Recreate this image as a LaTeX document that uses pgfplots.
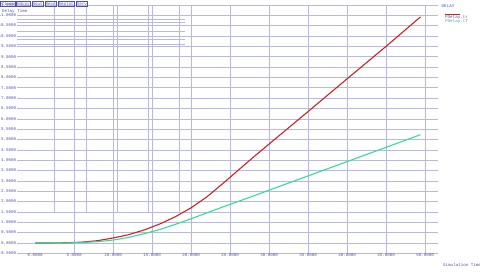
\documentclass[border=0pt]{standalone}
\usepackage{pgfplots}
\pgfplotsset{compat=1.18}
\usepackage{fontspec}
\setmainfont{Liberation Mono}
\definecolor{txt}{HTML}{5050B0}
\definecolor{gridc}{HTML}{B8B8E4}
\definecolor{cTr}{HTML}{CC2222}
\definecolor{cTf}{HTML}{33DD99}
\begin{document}
\fontsize{4.5}{5}\selectfont
\begin{tikzpicture}[x=1bp, y=1bp]
\useasboundingbox (0,0) rectangle (480,274);
\begin{axis}[
    at={(22,10)}, anchor=south west, scale only axis,
    width=421bp, height=248.4bp,
    xmin=-2.3, xmax=51.67, ymin=-0.5, ymax=11.5,
    axis line style={draw=none},
    major tick length=0pt,
    xtick={5,10,...,50}, extra x ticks={0}, extra x tick style={grid=none},
    ytick={-0.5,0,...,11.5},
    grid=major, major grid style={gridc, line width=0.5bp},
    ticklabel style={font=\fontsize{4.2}{5}\selectfont, text=txt,
      /pgf/number format/fixed, /pgf/number format/fixed zerofill,
      /pgf/number format/precision=4, /pgf/number format/assume math mode=true},
    xticklabel style={anchor=center, yshift=-2bp},
    yticklabel style={anchor=east, inner sep=0pt, xshift=-0.8bp},
    clip=false,
]
% stray lines of an overlapping window
\foreach \xv in {2.44,6.54,10.51,14.49,18.46}{
  \edef\tmp{\noexpand\draw[gridc, line width=0.5bp] (axis cs:\xv,1.5) -- (axis cs:\xv,11.5);}\tmp
}
\foreach \yv in {10.83,10.64,10.23,9.83,9.62}{
  \edef\tmp{\noexpand\draw[gridc, line width=0.5bp] (axis cs:-2.3,\yv) -- (axis cs:19.2,\yv);}\tmp
}
\addplot[cTr, line width=1.1bp] coordinates {
  (0,0) (2,0.0) (4,0.01) (6,0.04) (8,0.11) (10,0.24) (12,0.40) (14,0.63)
  (16,0.92) (18,1.27) (20,1.70) (22,2.22) (24,2.85) (26,3.50) (28,4.15)
  (30,4.78) (35,6.35) (40,7.93) (45,9.50) (49.4,10.92)};
\addplot[cTf, line width=1.1bp] coordinates {
  (0,0) (4,0.0) (6,0.02) (8,0.06) (10,0.14) (12,0.27) (14,0.45) (16,0.65)
  (18,0.90) (20,1.17) (22,1.45) (24,1.73) (26,2.00) (28,2.27) (30,2.55)
  (35,3.24) (40,3.93) (45,4.62) (49.4,5.23)};
\end{axis}
% window buttons and captions
\begin{scope}[every node/.style={text=txt, font=\fontsize{4.2}{5}\selectfont},
  btn/.style={draw=txt, line width=0.4bp, inner xsep=0.8bp, inner ysep=0.6bp,
    text height=3.2bp, text depth=0.3bp, anchor=north west}]
\node[btn] (b1) at (0.5,273) {Close};
\node[btn] (b2) at ([xshift=1]b1.north east) {Hdcpy};
\node[btn] (b3) at ([xshift=1]b2.north east) {Hout};
\node[btn] (b4) at ([xshift=1]b3.north east) {Recd};
\node[btn] (b5) at ([xshift=1]b4.north east) {Replot};
\node[btn] (b6) at ([xshift=1]b5.north east) {Serv};
\node[anchor=north west, inner sep=0pt] at (2,265) {Delay Time};
\node[inner sep=0pt] at (448,268) {DELAY};
\node[anchor=west, inner sep=0pt] at (445,257) {FDelay,tr};
\node[anchor=west, inner sep=0pt, text=cTf!60!txt] at (445,253) {FDelay,tf};
\node[anchor=west, inner sep=0pt] at (443,9.5) {Simulation Time};
\end{scope}
\draw[cTr, line width=0.5bp] (445,259.3) -- (460,259.3);
\end{tikzpicture}
\end{document}
